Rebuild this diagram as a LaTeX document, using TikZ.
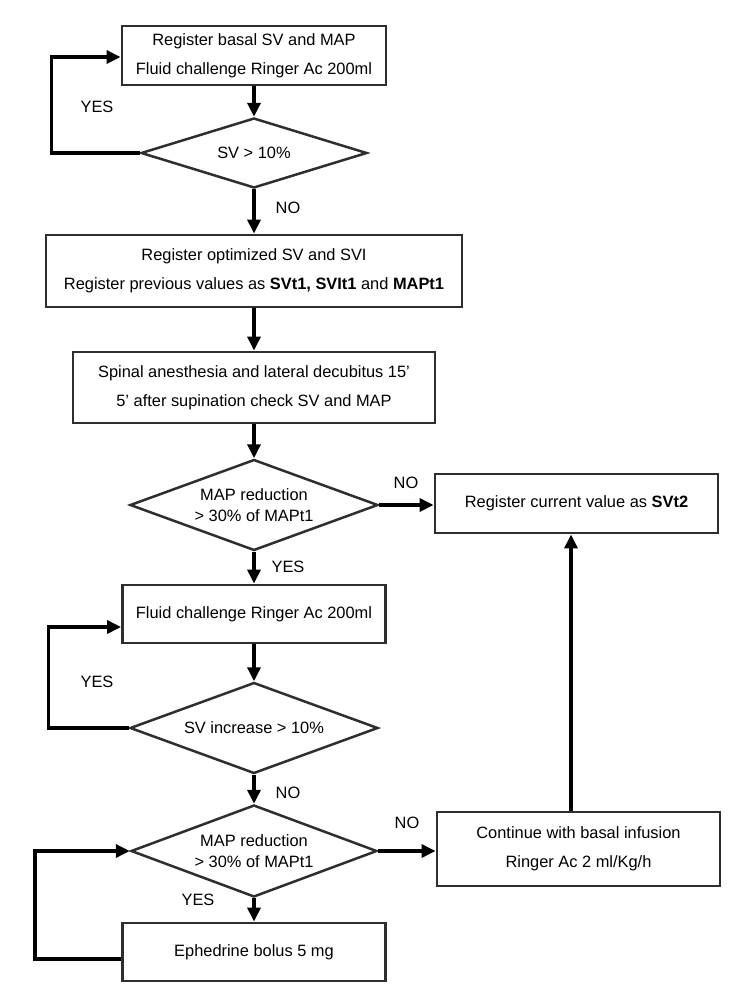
\documentclass[tikz,border=0pt]{standalone}
\usepackage{fontspec}
\setmainfont{Liberation Sans}
\usetikzlibrary{shapes.geometric,arrows.meta}
\definecolor{boxgray}{HTML}{2E2E2E}
\begin{document}
\begin{tikzpicture}[x=1pt,y=-1pt,
  font=\fontsize{16.4}{29}\selectfont,
  box/.style={draw=boxgray,line width=2.9pt,rectangle,inner sep=0pt,align=center},
  dia/.style={draw=boxgray,line width=2.5pt,diamond,aspect=2.7,inner sep=0pt,align=center,font=\fontsize{16.4}{21}\selectfont},
  arr/.style={line width=3.4pt,-{Triangle[length=14pt,width=13pt]}},
  lbl/.style={inner sep=0pt}]
\useasboundingbox (0,0) rectangle (737,991);

% boxes
\node[box,minimum width=264pt,minimum height=59pt] (b1) at (254,55.5)
  {Register basal SV and MAP\\Fluid challenge Ringer Ac 200ml};
\node[box,minimum width=416pt,minimum height=72pt] (b2) at (254,271)
  {Register optimized SV and SVI\\Register previous values as \textbf{SVt1, SVIt1} and \textbf{MAPt1}};
\node[box,minimum width=362pt,minimum height=71pt] (b3) at (254,387.5)
  {Spinal anesthesia and lateral decubitus 15’\\5’ after supination check SV and MAP};
\node[box,minimum width=263pt,minimum height=58pt] (b4) at (254,614)
  {Fluid challenge Ringer Ac 200ml};
\node[box,minimum width=283pt,minimum height=59pt] (b5) at (576.5,503.5)
  {Register current value as \textbf{SVt2}};
\node[box,minimum width=283pt,minimum height=74pt] (b6) at (578.5,849)
  {Continue with basal infusion\\Ringer Ac 2 ml/Kg/h};
\node[box,minimum width=263pt,minimum height=58pt] (b7) at (254,952)
  {Ephedrine bolus 5 mg};

% diamonds
\node[dia,minimum width=226pt,minimum height=70pt] (d1) at (254,153) {SV > 10\%};
\node[dia,minimum width=248pt,minimum height=91pt] (d2) at (254,505) {MAP reduction\\> 30\% of MAPt1};
\node[dia,minimum width=248pt,minimum height=91pt] (d3) at (254,728) {SV increase > 10\%};
\node[dia,minimum width=246pt,minimum height=92pt] (d4) at (254,851) {MAP reduction\\> 30\% of MAPt1};

% labels
\node[lbl] (y1) at (97,107) {YES};
\node[lbl] (n1) at (288,208) {NO};
\node[lbl] (n2) at (406,483) {NO};
\node[lbl] (y2) at (288,567) {YES};
\node[lbl] (y3) at (97,682) {YES};
\node[lbl] (n3) at (288,793) {NO};
\node[lbl] (n4) at (407,823) {NO};
\node[lbl] (y4) at (198,900) {YES};

% connectors
\draw[arr] (b1.south) -- (d1.north);
\draw[arr] (d1.west) -- ++(-88,0) |- ([yshift=-1.5pt]b1.west);
\draw[arr] (d1.south) -- (b2.north);
\draw[arr] (b2.south) -- (b3.north);
\draw[arr] (b3.south) -- (d2.north);
\draw[arr] (d2.east) -- (d2.east -| b5.west);
\draw[arr] (d2.south) -- (b4.north);
\draw[arr] (b4.south) -- (d3.north);
\draw[arr] (d3.west) -- ++(-80,0) |- ([yshift=-13pt]b4.west);
\draw[arr] (d3.south) -- (d4.north);
\draw[arr] (d4.east) -- (d4.east -| b6.west);
\draw[arr] ([xshift=-7.5pt]b6.north) -- ([xshift=-7.5pt]b6.north |- b5.south);
\draw[arr] (d4.south) -- (b7.north);
\draw[arr] ([yshift=-7pt]b7.west) -- ++(-86,0) |- (d4.west);
\end{tikzpicture}
\end{document}
